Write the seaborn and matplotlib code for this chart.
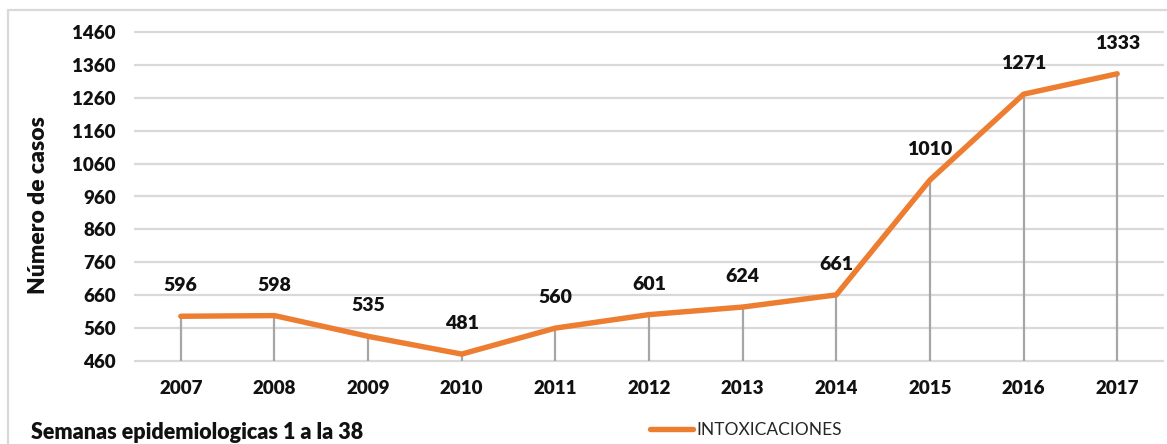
import matplotlib
matplotlib.use("Agg")
import matplotlib.pyplot as plt
import matplotlib.patches as mpatches
import seaborn as sns
import pandas as pd

years = ["2007", "2008", "2009", "2010", "2011", "2012", "2013", "2014", "2015", "2016", "2017"]
cases = [596, 598, 535, 481, 560, 601, 624, 661, 1010, 1271, 1333]
y_ticks = [460, 560, 660, 760, 860, 960, 1060, 1160, 1260, 1360, 1460]
series_name = "INTOXICACIONES"

sns.set_style("white")
plt.rcParams["font.family"] = ["Lato", "DejaVu Sans"]

W, H = 1167, 444
fig = plt.figure(figsize=(W / 100, H / 100), dpi=100)

y0, y1 = 450, 1470
px_per_unit = 329 / 1000
top_px = 32 - (1470 - 1460) * px_per_unit
bot_px = 361 + (460 - 450) * px_per_unit
ax = fig.add_axes([134 / W, 1 - bot_px / H, (1164 - 134) / W, (bot_px - top_px) / H])

df = pd.DataFrame({"x": range(len(years)), "casos": cases})
orange = "#ED7D31"
BW = "heavy"

for t in y_ticks:
    ax.axhline(t, color="#D9D9D9", lw=1.6, zorder=0)

ax.vlines(df["x"], y_ticks[0], df["casos"], color="#A6A6A6", lw=1.6, zorder=1)
sns.lineplot(data=df, x="x", y="casos", ax=ax, color=orange, lw=3.9,
             label=series_name, legend=False, zorder=3, solid_joinstyle="round",
             solid_capstyle="round")

for xi, v in zip(df["x"], df["casos"]):
    ax.annotate(str(v), (xi, v), xytext=(0, 22), textcoords="offset points",
                ha="center", va="center", fontsize=14, fontweight=BW, color="#111111")

ax.set_xlim(-0.5, len(years) - 0.5)
ax.set_ylim(y0, y1)
ax.set_xticks(list(range(len(years))))
ax.set_xticklabels(years)
ax.set_yticks(y_ticks)
ax.set_yticklabels([str(t) for t in y_ticks])
ax.tick_params(axis="both", length=0, labelsize=13.5, colors="#111111")
ax.tick_params(axis="y", pad=13)
ax.tick_params(axis="x", pad=11)
for lab in ax.get_xticklabels() + ax.get_yticklabels():
    lab.set_fontweight(BW)
for s in ax.spines.values():
    s.set_visible(False)
ax.set_xlabel("")
ax.set_ylabel("")

fig.text(39 / W, 1 - 205 / H, "Número de casos", rotation=90, ha="center", va="center",
         fontsize=16.5, fontweight=BW, color="#111111")
fig.text(31 / W, 1 - 432 / H, "Semanas epidemiologicas 1 a la 38", ha="left", va="center",
         fontsize=15.5, fontweight=BW, color="#111111")

handle = plt.Line2D([], [], color=orange, lw=3.9, solid_capstyle="round")
fig.legend([handle], [series_name], loc="center left",
           bbox_to_anchor=(650 / W, 1 - 430 / H), frameon=False, fontsize=12.5,
           handlelength=2.5, handletextpad=0.2, borderpad=0, borderaxespad=0)

border = mpatches.Rectangle((8 / W, -0.1), 1.2, 1 - 10 / H + 0.1, transform=fig.transFigure,
                            fill=False, edgecolor="#D9D9D9", lw=1.6)
fig.patches.append(border)

fig.savefig("out.png", dpi=100)
